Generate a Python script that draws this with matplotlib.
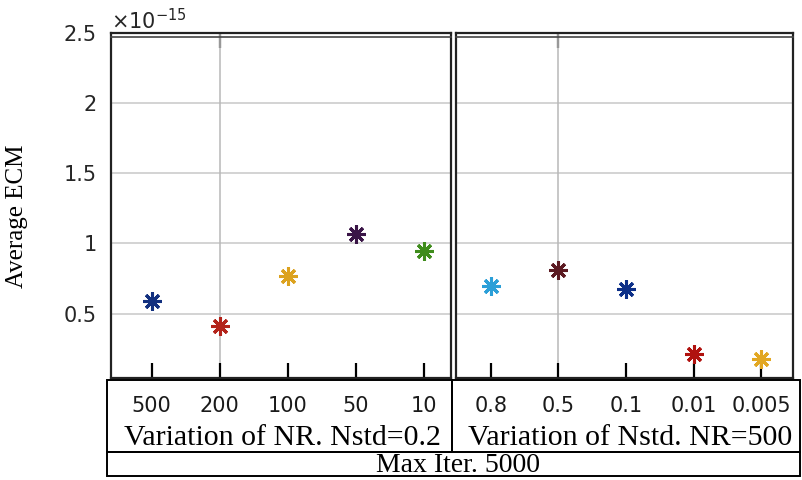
import matplotlib.pyplot as plt
from matplotlib.patches import Rectangle
from matplotlib.lines import Line2D

# Data (Average ECM, in units of 1e-15)
nr_labels = ["500", "200", "100", "50", "10"]
nr_ecm = [0.588, 0.409, 0.766, 1.071, 0.948]
nr_colors = ["#12307f", "#b3231a", "#dca21e", "#3a1547", "#3f8c1c"]

nstd_labels = ["0.8", "0.5", "0.1", "0.01", "0.005"]
nstd_ecm = [0.697, 0.814, 0.674, 0.212, 0.179]
nstd_colors = ["#2b9fd8", "#5c1a22", "#0c2f88", "#b0120f", "#e2a722"]

y_ticks = [0.5, 1, 1.5, 2, 2.5]
y_ticklabels = ["0.5", "1", "1.5", "2", "2.5"]

W, H = 803, 480


def fx(px):
    return px / W


def fy(py):
    return 1 - py / H


fig = plt.figure(figsize=(W / 100, H / 100), dpi=100)
tick_font = "DejaVu Sans"
serif = "Liberation Serif"

axL = fig.add_axes([fx(110.7), fy(378), (451 - 110.7) / W, (378 - 33.3) / H])
axR = fig.add_axes([fx(455.7), fy(378), (793.5 - 455.7) / W, (378 - 33.3) / H])

panels = [
    (axL, nr_labels, nr_ecm, nr_colors, (0.4, 5.4)),
    (axR, nstd_labels, nstd_ecm, nstd_colors, (0.48, 5.48)),
]

for ax, labels, vals, cols, xl in panels:
    xs = range(1, len(vals) + 1)
    for x, v, c in zip(xs, vals, cols):
        ax.plot(x, v, linestyle="none", marker=(8, 2, 0), markersize=13,
                markeredgewidth=2.2, color=c, zorder=3)
    ax.set_xlim(*xl)
    ax.set_ylim(0.04, 2.5)
    ax.set_xticks(list(xs))
    ax.set_xticklabels(labels, fontsize=15, family=tick_font, color="#1a1a1a")
    ax.tick_params(axis="x", direction="in", length=11, width=1.6,
                   color="black", pad=13)
    ax.set_yticks(y_ticks)
    ax.tick_params(axis="y", length=0, pad=10)
    for y in y_ticks[:-1]:
        ax.axhline(y, color="#c8c8c8", linewidth=1.1, zorder=1)
    ax.axvline(2, color="#b8b8b8", linewidth=1.1, zorder=1)
    top = ax.secondary_xaxis("top")
    top.set_xticks([2])
    top.set_xticklabels([""])
    top.tick_params(direction="in", length=11, width=1.6, color="#333333")
    top.spines["top"].set_visible(False)
    for s in ax.spines.values():
        s.set_linewidth(1.6)
        s.set_color("#222222")

axL.set_yticklabels(y_ticklabels, fontsize=15, family=tick_font, color="#262626")
axR.set_yticklabels([])
axL.set_ylabel("Average ECM", family=serif, fontsize=18)
axL.yaxis.set_label_coords(-0.243, 0.47)
axL.text(0.0, 1.0, r"$\times10^{-15}$", transform=axL.transAxes,
         ha="left", va="bottom", fontsize=15, color="#262626")

# second frame line along the top, as in the original export
for x0, x1 in [(110.7, 451), (455.7, 793.5)]:
    fig.lines.append(Line2D([fx(x0), fx(x1)], [fy(37), fy(37)],
                            transform=fig.transFigure, color="#444444",
                            linewidth=1.2))

# table boxes below the axes
boxes = [(107, 380, 452, 452), (452, 380, 800, 452), (107, 452, 800, 476)]
for x0, y0, x1, y1 in boxes:
    fig.patches.append(Rectangle((fx(x0), fy(y1)), (x1 - x0) / W, (y1 - y0) / H,
                                 transform=fig.transFigure, fill=False,
                                 edgecolor="black", linewidth=1.4))

fig.text(fx(282), fy(445), "Variation of NR. Nstd=0.2", family=serif,
         fontsize=21.5, ha="center", va="baseline")
fig.text(fx(630), fy(445), "Variation of Nstd. NR=500", family=serif,
         fontsize=21.5, ha="center", va="baseline")
fig.text(fx(458), fy(472), "Max Iter. 5000", family=serif,
         fontsize=20, ha="center", va="baseline")

fig.savefig("out.png", dpi=100)
